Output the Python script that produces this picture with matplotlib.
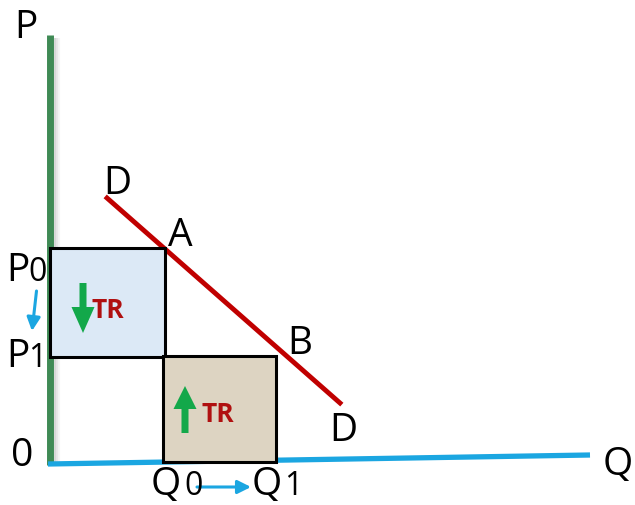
import matplotlib
matplotlib.use('Agg')
import matplotlib.pyplot as plt
from matplotlib.patches import Rectangle, FancyArrow

plt.rcParams['font.family'] = ['Open Sans', 'DejaVu Sans']

GREEN = "#3f8a55"
BLUE = "#1ba6e1"
RED = "#c00000"
ARROWG = "#13a84a"

# price / quantity axes (pixel-space diagram)
p_axis_x = [50, 50]
p_axis_y = [35, 465]
q_axis_x = [48, 590]
q_axis_y = [464, 455]

# demand curve D-D
demand_x = [107, 340]
demand_y = [198, 403]

# revenue boxes: (x0, y0, x1, y1)
box_before = [50, 248, 165, 357]
box_after = [163, 356, 276, 462]

fig = plt.figure(figsize=(6.35, 5.05), dpi=100, facecolor='white')
ax = fig.add_axes([0, 0, 1, 1])
ax.set_xlim(0, 635)
ax.set_ylim(505, 0)
ax.axis('off')

# shadow next to P axis
for i, a in enumerate([0.3, 0.18, 0.08]):
    ax.plot([p_axis_x[0] + 4.5 + 2 * i] * 2, [p_axis_y[0] + 3, p_axis_y[1] - 2],
            color='gray', lw=1.6, alpha=a, solid_capstyle='butt')
ax.plot(p_axis_x, p_axis_y, color=GREEN, lw=5, solid_capstyle='butt', zorder=3)
ax.plot(q_axis_x, q_axis_y, color=BLUE, lw=3.8, solid_capstyle='butt', zorder=3)

ax.plot(demand_x, demand_y, color=RED, lw=3.5, zorder=2)

for (x0, y0, x1, y1), fc in [(box_before, "#dce9f6"), (box_after, "#ddd4c2")]:
    ax.add_patch(Rectangle((x0, y0), x1 - x0, y1 - y0, facecolor=fc,
                           edgecolor='black', lw=2.2, zorder=4))

# arrows inside boxes
ax.add_patch(FancyArrow(83, 283, 0, 50, width=7, head_width=23, head_length=26,
                        length_includes_head=True, color=ARROWG, lw=0, zorder=5))
ax.add_patch(FancyArrow(185, 433, 0, -47, width=7, head_width=23, head_length=23,
                        length_includes_head=True, color=ARROWG, lw=0, zorder=5))
ax.text(91, 318, 'TR', color='#b01010', fontsize=19, fontweight='bold',
        ha='left', va='baseline', zorder=6)
ax.text(202, 422, 'TR', color='#b01010', fontsize=19, fontweight='bold',
        ha='left', va='baseline', zorder=6)

# small blue arrows
ax.annotate('', xy=(32, 331), xytext=(36.5, 291),
            arrowprops=dict(arrowstyle='-|>', color=BLUE, lw=2.2, mutation_scale=20,
                            shrinkA=0, shrinkB=0))
ax.annotate('', xy=(251, 487), xytext=(197, 487),
            arrowprops=dict(arrowstyle='-|>', color=BLUE, lw=2.2, mutation_scale=20,
                            shrinkA=0, shrinkB=0))

fs = 28
sub = 23
for x, y, s in [(26, 38, 'P'), (618, 475, 'Q'), (22, 466, '0'),
                (117, 194, 'D'), (180, 246, 'A'), (300, 354, 'B'),
                (343, 441, 'D')]:
    ax.text(x, y, s, fontsize=fs, ha='center', va='baseline')

ax.text(6, 281, 'P', fontsize=fs, ha='left', va='baseline')
ax.text(28, 281, '0', fontsize=sub, ha='left', va='baseline')
ax.text(6, 367, 'P', fontsize=fs, ha='left', va='baseline')
ax.text(28, 367, '1', fontsize=sub, ha='left', va='baseline')
ax.text(151, 495, 'Q', fontsize=fs, ha='left', va='baseline')
ax.text(184, 495, '0', fontsize=sub, ha='left', va='baseline')
ax.text(252, 495, 'Q', fontsize=fs, ha='left', va='baseline')
ax.text(284, 495, '1', fontsize=sub, ha='left', va='baseline')

plt.savefig('out.png', dpi=100, facecolor='white')
plt.close()
